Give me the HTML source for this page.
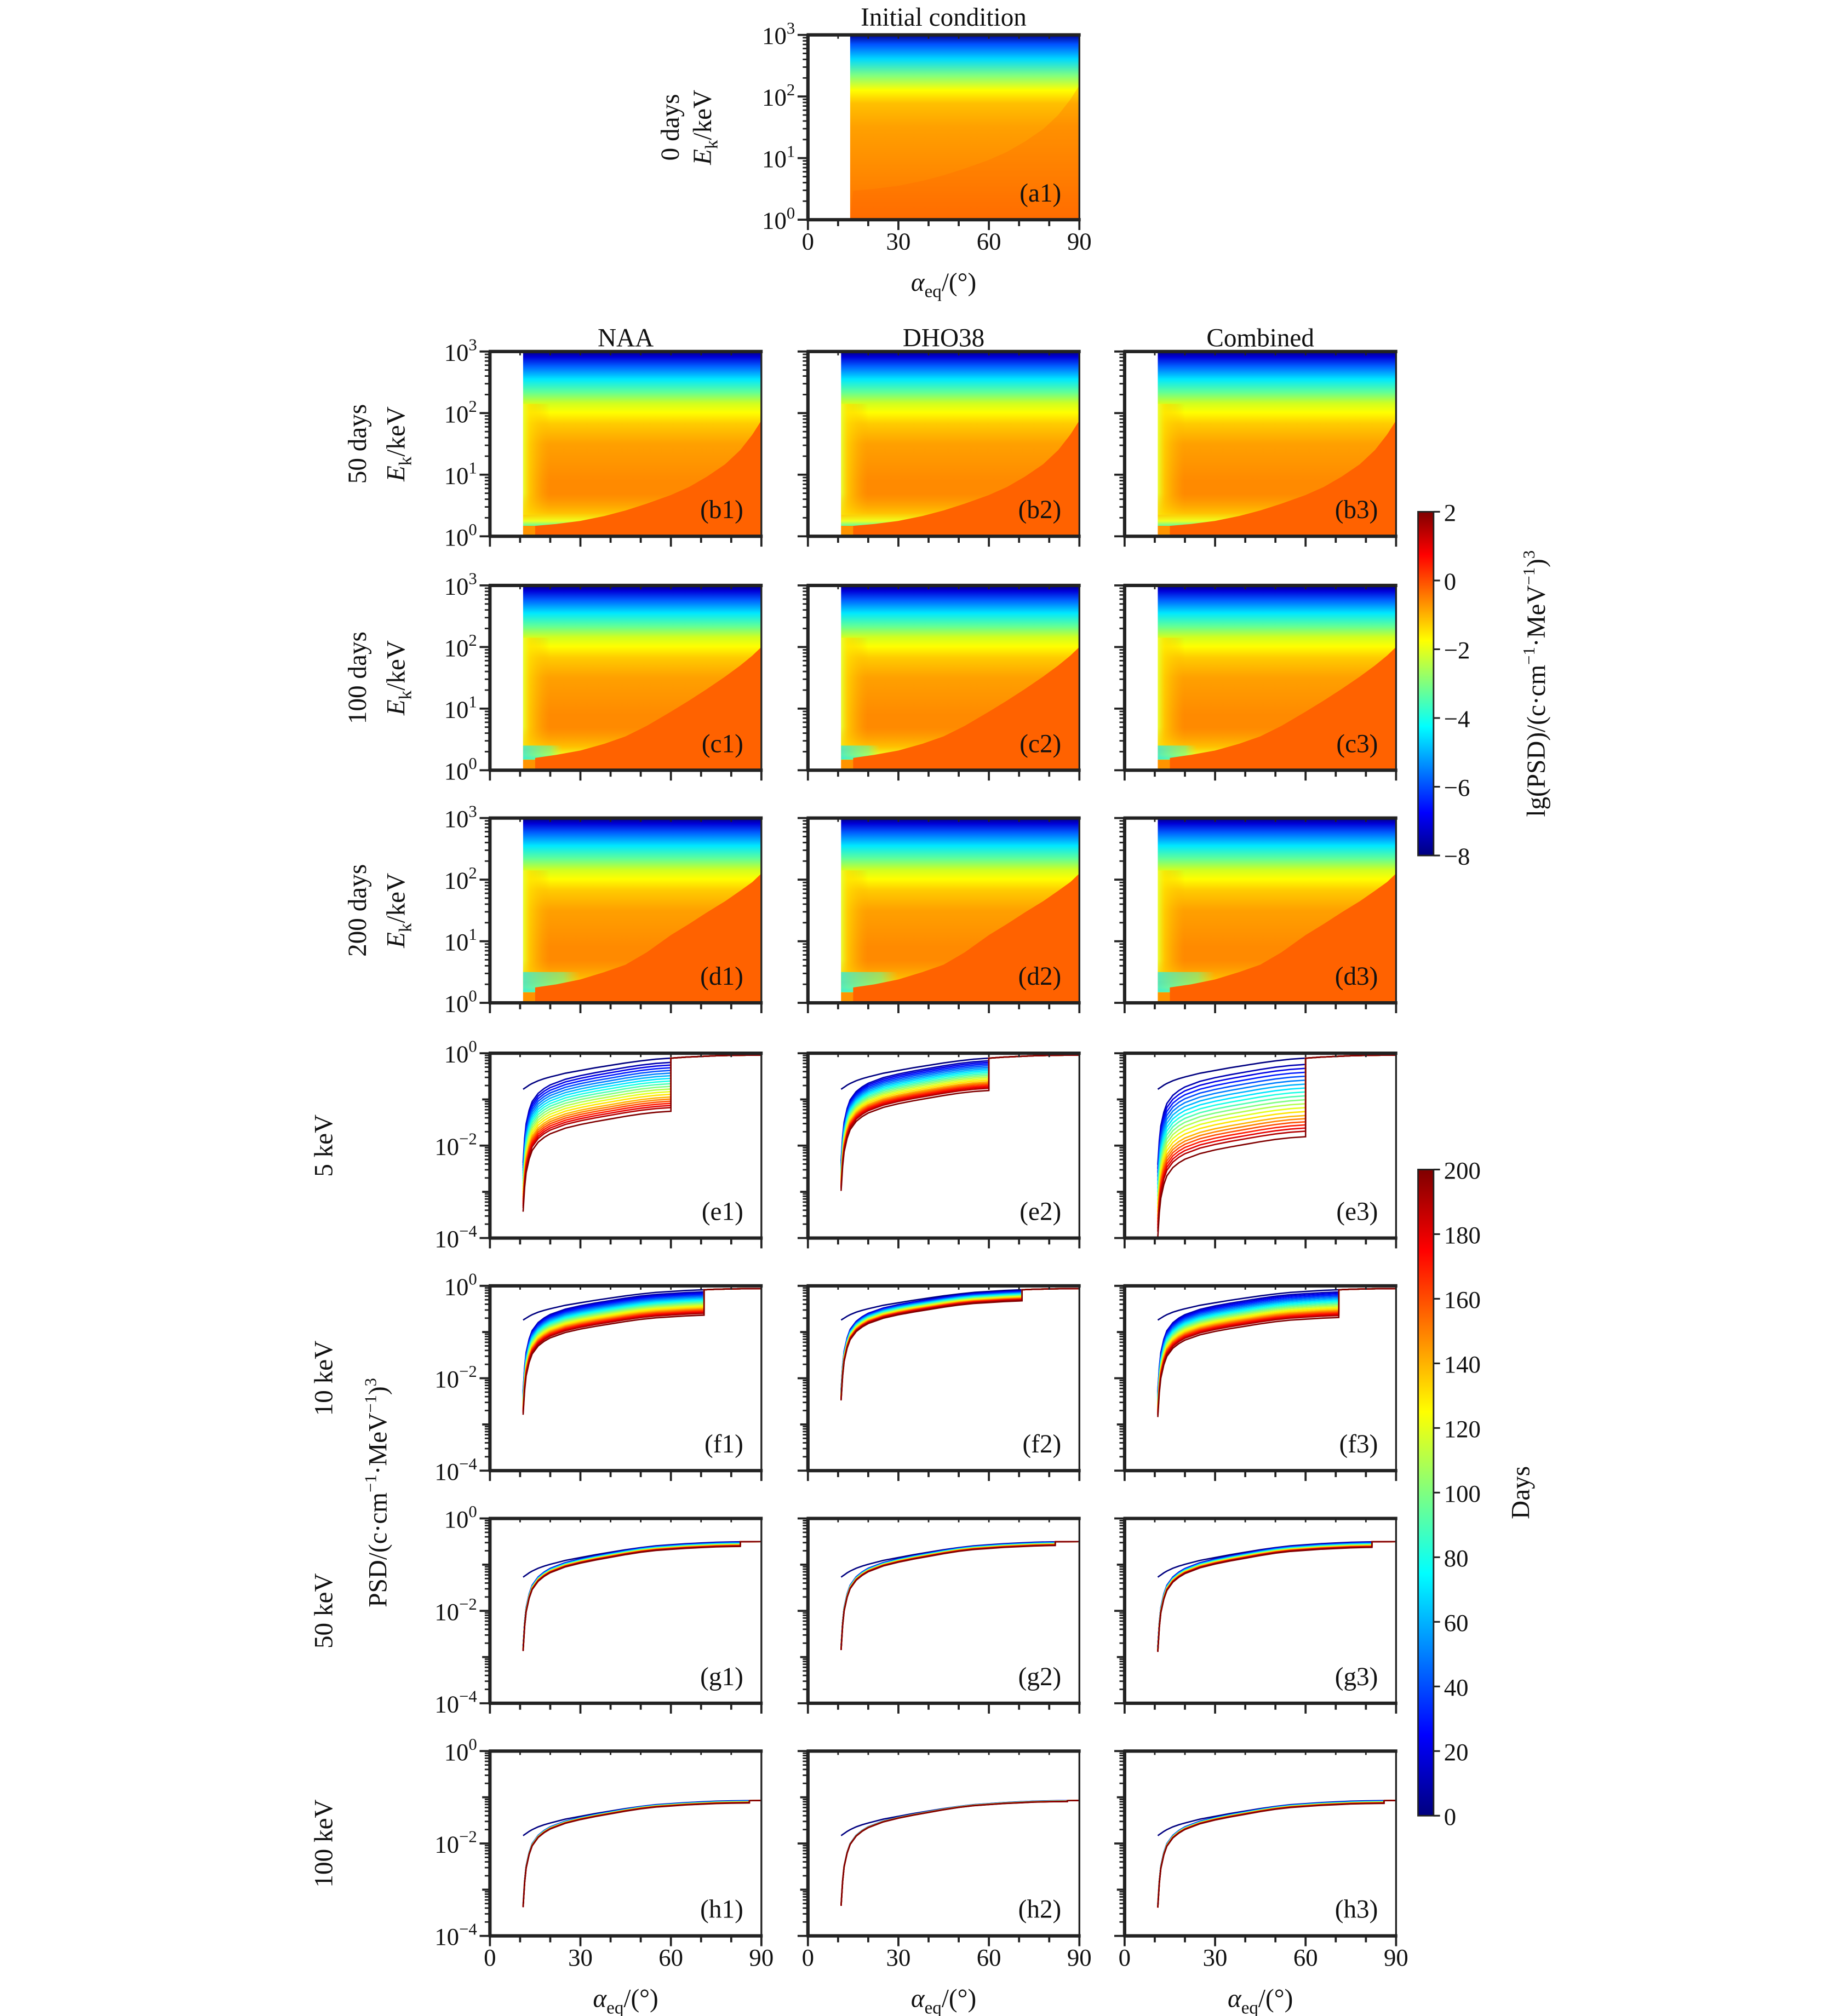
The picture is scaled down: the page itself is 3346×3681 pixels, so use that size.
<!DOCTYPE html>
<html><head><meta charset="utf-8"><style>
html,body{margin:0;padding:0;background:#fff}
svg{display:block}
text{font-family:"Liberation Serif",serif;fill:#111}
</style></head><body>
<svg id="fig" width="3346" height="3681" viewBox="0 0 1418 1560" xmlns="http://www.w3.org/2000/svg">
<defs>
<linearGradient id="gA" x1="0" y1="0" x2="0" y2="1">
<stop offset="0" stop-color="#00008f"/><stop offset="0.05" stop-color="#0050ff"/><stop offset="0.13" stop-color="#00d8ff"/>
<stop offset="0.22" stop-color="#80ff80"/><stop offset="0.3" stop-color="#ffff00"/><stop offset="0.37" stop-color="#ffc000"/>
<stop offset="0.5" stop-color="#ffa000"/><stop offset="0.8" stop-color="#ff8400"/><stop offset="1" stop-color="#ff7000"/>
</linearGradient>
<linearGradient id="gV" x1="0" y1="0" x2="0" y2="1">
<stop offset="0" stop-color="#00007f"/><stop offset="0.03" stop-color="#0000d8"/><stop offset="0.08" stop-color="#0060ff"/>
<stop offset="0.15" stop-color="#00e8ff"/><stop offset="0.22" stop-color="#60ff98"/><stop offset="0.28" stop-color="#d0ff20"/>
<stop offset="0.33" stop-color="#ffff00"/><stop offset="0.39" stop-color="#ffcc00"/><stop offset="0.5" stop-color="#ffa000"/>
<stop offset="0.7" stop-color="#ff8a00"/><stop offset="1" stop-color="#ff8800"/>
</linearGradient>
<linearGradient id="gLeft" x1="0" y1="0" x2="1" y2="0">
<stop offset="0" stop-color="#e8ff30" stop-opacity="1"/><stop offset="0.25" stop-color="#ffe000" stop-opacity="0.7"/><stop offset="1" stop-color="#ffb000" stop-opacity="0"/>
</linearGradient>
<linearGradient id="gLeftV" x1="0" y1="0" x2="0" y2="1">
<stop offset="0" stop-color="#fff" stop-opacity="0"/><stop offset="0.15" stop-color="#fff" stop-opacity="1"/><stop offset="1" stop-color="#fff" stop-opacity="1"/>
</linearGradient>
<mask id="mLeft"><rect x="0" y="0" width="1418" height="1560" fill="url(#gLeftV)"/></mask>
<linearGradient id="gBot" x1="0" y1="0" x2="0" y2="1">
<stop offset="0" stop-color="#ffb000" stop-opacity="0"/><stop offset="0.6" stop-color="#ffd800" stop-opacity="0.7"/><stop offset="0.85" stop-color="#f0ff20"/><stop offset="1" stop-color="#60ffa0"/>
</linearGradient>
<linearGradient id="gCyan" x1="0" y1="0" x2="1" y2="0">
<stop offset="0" stop-color="#30e8e0"/><stop offset="0.7" stop-color="#60ffa0" stop-opacity="0.7"/><stop offset="1" stop-color="#a0ff60" stop-opacity="0"/>
</linearGradient>
<linearGradient id="gJet" x1="0" y1="1" x2="0" y2="0">
<stop offset="0" stop-color="#00007f"/><stop offset="0.125" stop-color="#0000ff"/><stop offset="0.375" stop-color="#00ffff"/>
<stop offset="0.625" stop-color="#ffff00"/><stop offset="0.875" stop-color="#ff0000"/><stop offset="1" stop-color="#7f0000"/>
</linearGradient>
</defs>
<g id="root"></g>
</svg>
<script>
// ---- data ----
const colX = [379, 625, 870];
const panelW = 210, panelH = 143;
const heatRows = ['b', 'c', 'd'];
const heatRowY = [272, 453, 633];
const heatDays = ['50 days', '100 days', '200 days'];
const lineRows = ['e', 'f', 'g', 'h'];
const lineRowY = [815, 995, 1175, 1355];
const lineEnergies = ['5 keV', '10 keV', '50 keV', '100 keV'];
const colTitles = ['NAA', 'DHO38', 'Combined'];
// heatmap lower-right boundary (alpha in deg, log10 E)
const bndAlpha = [15, 22, 30, 38, 45, 52, 60, 66, 72, 78, 83, 87, 90];
const bndB = [0.17, 0.2, 0.25, 0.33, 0.42, 0.53, 0.67, 0.8, 0.97, 1.17, 1.4, 1.65, 1.88];
const bndC = [0.2, 0.25, 0.32, 0.43, 0.55, 0.72, 0.95, 1.13, 1.32, 1.52, 1.7, 1.86, 2.0];
const bndD = [0.25, 0.3, 0.38, 0.5, 0.62, 0.82, 1.1, 1.28, 1.47, 1.65, 1.82, 1.96, 2.1];
// line plots
const days = [0, 10, 20, 30, 40, 50, 60, 70, 80, 90, 100, 110, 120, 130, 140, 150, 160, 170, 180, 190, 200];
const dayFrac = [0.08, 0.13, 0.18, 0.23, 0.28, 0.33, 0.38, 0.43, 0.48, 0.53, 0.58, 0.63, 0.68, 0.73, 0.77, 0.81, 0.85, 0.89, 0.93, 1.0];
const alphaGrid = [11, 11.5, 12, 13, 14, 16, 18, 20, 25, 30, 35, 40, 45, 50, 55, 60, 65, 70, 75, 80, 85, 90];
const envShape = [1, 0.97, 0.94, 0.88, 0.83, 0.75, 0.69, 0.64, 0.53, 0.45, 0.37, 0.3, 0.23, 0.17, 0.12, 0.09, 0.06, 0.04, 0.02, 0.01, 0.004, 0];
const dipShape = [-1.5, -1.0, -0.7, -0.45, -0.3, -0.18, -0.12, -0.08, -0.04, -0.02, -0.015, -0.01, -0.005, 0, 0, 0, 0, 0, 0, 0, 0, 0];
const envStart = [-0.78, -0.74, -1.27, -1.83];
const envEnd = [-0.04, -0.06, -0.5, -1.07];
const endOffE = [-1.15, -0.7, -1.7];
const endOffF = [-0.55, -0.24, -0.6];
const endOffG = [-0.1, -0.08, -0.12];
const endOffH = [-0.05, -0.02, -0.06];
const cutE = [60, 60, 60];
const cutF = [71, 71, 71];
const cutG = [83, 82, 82];
const cutH = [86, 86, 86];
const cbPsdTicks = [2, 0, -2, -4, -6, -8];
const cbDayTicks = [0, 20, 40, 60, 80, 100, 120, 140, 160, 180, 200];
const xTicks = [0, 30, 60, 90];

// ---- helpers ----
const NS = 'http://www.w3.org/2000/svg';
const root = document.getElementById('root');
function mk(tag, attrs, parent) {
  const e = document.createElementNS(NS, tag);
  for (const k in attrs) e.setAttribute(k, attrs[k]);
  (parent || root).appendChild(e);
  return e;
}
function jet(t) {
  const c = v => Math.round(255 * Math.max(0, Math.min(1, v)));
  return 'rgb(' + c(1.5 - Math.abs(4 * t - 3)) + ',' + c(1.5 - Math.abs(4 * t - 2)) + ',' + c(1.5 - Math.abs(4 * t - 1)) + ')';
}
const xScale = (x0, a) => x0 + a / 90 * panelW;
const yHeat = (y0, le) => y0 + (3 - le) / 3 * panelH;
const yLine = (y0, lv) => y0 + (0 - lv) / 4 * panelH;

function pow10Label(x, y, exp, anchor, parent) {
  const t = mk('text', {x: x, y: y, 'font-size': 19, 'text-anchor': anchor || 'end'}, parent);
  
  
  const a = mk('tspan', {}, t); a.textContent = '10';
  const b = mk('tspan', {dy: -8, 'font-size': 13}, t); b.textContent = String(exp).replace('-', '\u2212');
  return t;
}

function axesFrame(x0, y0, kind, showY, showX, parent) {
  const g = mk('g', {}, parent);
  
  
  for (let a = 0; a <= 90; a += 10) {
    const X = xScale(x0, a), major = a % 30 === 0;
    mk('line', {x1: X, x2: X, y1: y0 + panelH, y2: y0 + panelH + (major ? 8 : 5), stroke: '#222', 'stroke-width': 1.6}, g);
    mk('line', {x1: X, x2: X, y1: y0, y2: y0 + 3, stroke: '#222', 'stroke-width': 1.2}, g);
  }
  if (showX) {
    xTicks.forEach(a => {
      const t = mk('text', {x: xScale(x0, a), y: y0 + panelH + 23, 'font-size': 19, 'text-anchor': 'middle'}, g);
      
      
      t.textContent = a;
    });
    const xl = mk('text', {x: x0 + panelW / 2, y: y0 + panelH + 55, 'font-size': 20, 'text-anchor': 'middle'}, g);
    
    
    const s1 = mk('tspan', {'font-style': 'italic'}, xl); s1.textContent = '\u03b1';
    const s2 = mk('tspan', {dy: 5, 'font-size': 14}, xl); s2.textContent = 'eq';
    const s3 = mk('tspan', {dy: -5}, xl); s3.textContent = '/(\u00b0)';
  }
  const decades = kind === 'heat' ? [0, 1, 2, 3] : [-4, -3, -2, -1, 0];
  const yf = kind === 'heat' ? (v => yHeat(y0, v)) : (v => yLine(y0, v));
  decades.forEach((d, i) => {
    const Y = yf(d);
    const isMajor = kind === 'heat' || d % 2 === 0;
    mk('line', {x1: x0 - (isMajor ? 8 : 6), x2: x0, y1: Y, y2: Y, stroke: '#222', 'stroke-width': 1.6}, g);
    if (i < decades.length - 1) for (let m = 2; m <= 9; m++) {
      const Ym = yf(d + Math.log10(m));
      mk('line', {x1: x0 - 4, x2: x0, y1: Ym, y2: Ym, stroke: '#222', 'stroke-width': 1.2}, g);
    }
    if (showY && isMajor) pow10Label(x0 - 10, Y + 7, d, 'end', g);
  });
  mk('rect', {x: x0, y: y0, width: panelW, height: panelH, fill: 'none', stroke: '#222', 'stroke-width': 1.4}, g);
  mk('line', {x1: x0 - 1, x2: x0 + panelW + 1, y1: y0, y2: y0, stroke: '#222', 'stroke-width': 2.6}, g);
  mk('line', {x1: x0 - 1, x2: x0 + panelW + 1, y1: y0 + panelH, y2: y0 + panelH, stroke: '#222', 'stroke-width': 2.6}, g);
  mk('line', {x1: x0, x2: x0, y1: y0, y2: y0 + panelH, stroke: '#222', 'stroke-width': 2.6}, g);
}

function panelLabel(x0, y0, txt, parent) {
  const t = mk('text', {x: x0 + panelW - 14, y: y0 + panelH - 14, 'font-size': 20, 'text-anchor': 'end'}, parent);
  
  
  t.textContent = txt;
}

function rotText(x, y, parent) {
  return mk('text', {x: 0, y: 0, 'font-size': 20, 'text-anchor': 'middle', transform: 'translate(' + x + ',' + y + ') rotate(-90)'}, parent);
}
function ekTitle(x, y, parent) {
  const t = rotText(x, y, parent);
  
  
  const a = mk('tspan', {'font-style': 'italic'}, t); a.textContent = 'E';
  const b = mk('tspan', {dy: 5, 'font-size': 14}, t); b.textContent = 'k';
  const c = mk('tspan', {dy: -5}, t); c.textContent = '/keV';
}

// ---- heatmap panel ----
function heatPanel(x0, y0, bnd, rowIdx, label, showY, showX, isInit) {
  const g = mk('g', {});
  
  
  const aStart = isInit ? 14 : 11;
  const xa = xScale(x0, aStart), wa = x0 + panelW - xa;
  if (isInit) {
    mk('rect', {x: xa, y: y0, width: wa, height: panelH, fill: 'url(#gA)'}, g);
    const pts = bndAlpha.map((a, i) => xScale(x0, Math.max(a, aStart)) + ',' + yHeat(y0, bnd[i] + 0.3));
    pts.push((x0 + panelW) + ',' + (y0 + panelH), xa + ',' + (y0 + panelH));
    mk('polygon', {points: pts.join(' '), fill: '#ff6000', opacity: 0.25}, g);
  } else {
    mk('rect', {x: xa, y: y0, width: wa, height: panelH, fill: 'url(#gV)'}, g);
    const lg = mk('g', {mask: 'url(#mLeft)'}, g);
    mk('rect', {x: xa, y: yHeat(y0, 2.15), width: xScale(x0, 20) - xa, height: yHeat(y0, 0.35) - yHeat(y0, 2.15), fill: 'url(#gLeft)'}, lg);
    mk('rect', {x: xa, y: yHeat(y0, 0.7), width: wa, height: yHeat(y0, 0.17) - yHeat(y0, 0.7), fill: 'url(#gBot)'}, g);
    if (rowIdx > 0) {
      const top = rowIdx === 1 ? 0.4 : 0.5;
      const hb = mk('rect', {x: xa, y: yHeat(y0, top), width: xScale(x0, rowIdx === 1 ? 24 : 30) - xa, height: yHeat(y0, 0.18) - yHeat(y0, top), fill: 'url(#gCyan)', opacity: 0.8}, g);
      
      
    }
    mk('rect', {x: xa, y: yHeat(y0, 0.17), width: wa, height: yHeat(y0, 0) - yHeat(y0, 0.17), fill: '#ff9400'}, g);
    const pts = bndAlpha.map((a, i) => xScale(x0, a) + ',' + yHeat(y0, bnd[i]));
    pts.push((x0 + panelW) + ',' + (y0 + panelH), xScale(x0, bndAlpha[0]) + ',' + (y0 + panelH));
    const poly = mk('polygon', {points: pts.join(' '), fill: '#ff6200'}, g);
    
    
  }
  axesFrame(x0, y0, 'heat', showY, showX, g);
  panelLabel(x0, y0, label, g);
}

// ---- line panel ----
function interp(arr, a) {
  for (let i = 0; i < alphaGrid.length - 1; i++) {
    if (a >= alphaGrid[i] && a <= alphaGrid[i + 1]) {
      const t = (a - alphaGrid[i]) / (alphaGrid[i + 1] - alphaGrid[i]);
      return arr[i] + t * (arr[i + 1] - arr[i]);
    }
  }
  return arr[arr.length - 1];
}
function linePanel(x0, y0, row, col, endOff, cut, label, showY, showX) {
  const g = mk('g', {});
  
  
  const env = a => envEnd[row] + (envStart[row] - envEnd[row]) * interp(envShape, a);
  const clampY = v => yLine(y0, Math.max(-4, Math.min(0, v)));
  days.forEach((d, i) => {
    let pts = [];
    if (i === 0) {
      alphaGrid.forEach(a => pts.push([xScale(x0, a), clampY(env(a))]));
    } else {
      const off = endOff * dayFrac[i - 1];
      alphaGrid.forEach((a, k) => { if (a < cut) pts.push([xScale(x0, a), clampY(env(a) + off + dipShape[k])]); });
      pts.push([xScale(x0, cut), clampY(env(cut) + off + interp(dipShape, cut))]);
      pts.push([xScale(x0, cut), clampY(env(cut))]);
      alphaGrid.forEach(a => { if (a > cut) pts.push([xScale(x0, a), clampY(env(a))]); });
    }
    const p = mk('polyline', {points: pts.map(q => q[0].toFixed(2) + ',' + q[1].toFixed(2)).join(' '), fill: 'none', stroke: jet(d / 200), 'stroke-width': 1.1}, g);
    
    
  });
  axesFrame(x0, y0, 'line', showY, showX, g);
  panelLabel(x0, y0, label, g);
}

// ---- build ----
const initTitle = mk('text', {x: colX[1] + panelW / 2, y: 20, 'font-size': 20, 'text-anchor': 'middle'});


initTitle.textContent = 'Initial condition';
heatPanel(colX[1], 27, bndB, 0, '(a1)', true, true, true);
ekTitle(colX[1] - 75, 27 + panelH / 2);
const d0 = rotText(colX[1] - 100, 27 + panelH / 2);


d0.textContent = '0 days';

colTitles.forEach((t, c) => {
  const e = mk('text', {x: colX[c] + panelW / 2, y: 268, 'font-size': 20, 'text-anchor': 'middle'});
  
  
  e.textContent = t;
});

const bnds = [bndB, bndC, bndD];
heatRows.forEach((r, ri) => {
  colX.forEach((x, c) => heatPanel(x, heatRowY[ri], bnds[ri], ri, '(' + r + (c + 1) + ')', c === 0, false, false));
  ekTitle(colX[0] - 66, heatRowY[ri] + panelH / 2);
  const lab = rotText(colX[0] - 96, heatRowY[ri] + panelH / 2);
  
  
  lab.textContent = heatDays[ri];
});

const offs = [endOffE, endOffF, endOffG, endOffH];
const cuts = [cutE, cutF, cutG, cutH];
lineRows.forEach((r, ri) => {
  colX.forEach((x, c) => linePanel(x, lineRowY[ri], ri, c, offs[ri][c], cuts[ri][c], '(' + r + (c + 1) + ')', c === 0, ri === 3));
  const lab = rotText(colX[0] - 122, lineRowY[ri] + panelH / 2);
  
  
  lab.textContent = lineEnergies[ri];
});
const psdT = rotText(colX[0] - 80, 1155);


psdT.innerHTML = 'PSD/(c\u00b7cm<tspan dy="-8" font-size="13">\u22121</tspan><tspan dy="8">\u00b7MeV</tspan><tspan dy="-8" font-size="13">\u22121</tspan><tspan dy="8">)</tspan><tspan dy="-8" font-size="13">3</tspan>';

function colorbar(y0, h, ticks, vmin, vmax, title, titleX, isPsd) {
  const g = mk('g', {});
  
  
  mk('rect', {x: 1097, y: y0, width: 12, height: h, fill: 'url(#gJet)', stroke: '#222', 'stroke-width': 1.2}, g);
  ticks.forEach(v => {
    const Y = y0 + (vmax - v) / (vmax - vmin) * h;
    mk('line', {x1: 1109, x2: 1114, y1: Y, y2: Y, stroke: '#222', 'stroke-width': 1.3}, g);
    const t = mk('text', {x: 1117, y: Y + 7, 'font-size': 19}, g);
    
    
    t.textContent = String(v).replace('-', '\u2212');
  });
  const tt = rotText(titleX, y0 + h / 2, g);
  
  
  if (isPsd) tt.innerHTML = 'lg(PSD)/(c\u00b7cm<tspan dy="-8" font-size="13">\u22121</tspan><tspan dy="8">\u00b7MeV</tspan><tspan dy="-8" font-size="13">\u22121</tspan><tspan dy="8">)</tspan><tspan dy="-8" font-size="13">3</tspan>';
  else tt.textContent = title;
}
colorbar(396, 266, cbPsdTicks, -8, 2, '', 1195, true);
colorbar(905, 500, cbDayTicks, 0, 200, 'Days', 1183, false);
</script>
</body></html>
